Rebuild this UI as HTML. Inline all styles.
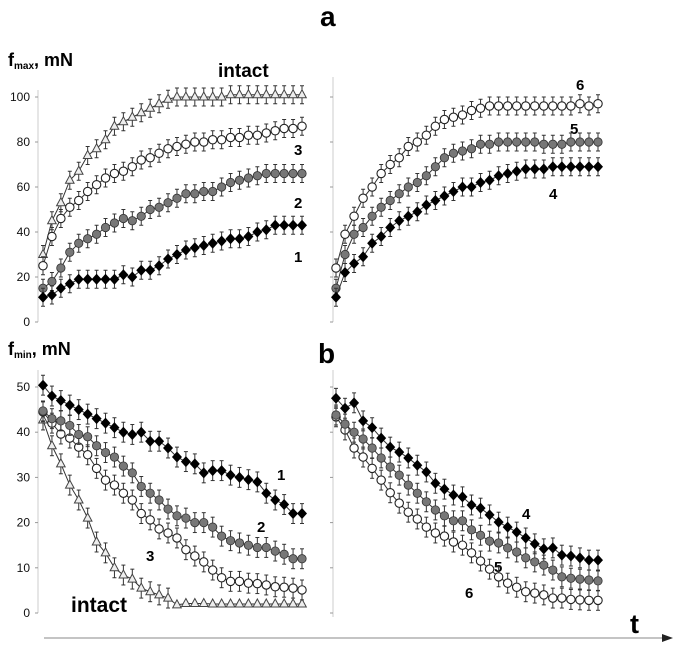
<!DOCTYPE html>
<html><head><meta charset="utf-8">
<style>
html,body{margin:0;padding:0;background:#fff;}
svg{display:block;font-family:"Liberation Sans",Arial,sans-serif;}
</style></head>
<body>
<svg id="chart" width="681" height="650" viewBox="0 0 681 650" xmlns="http://www.w3.org/2000/svg">
<g id="static">
  <text x="320" y="26" font-size="28" font-weight="bold">a</text>
  <text x="318" y="363" font-size="28" font-weight="bold">b</text>
  <text x="8" y="66" font-size="18" font-weight="bold">f<tspan font-size="10" dy="3">max</tspan><tspan dy="-3">, mN</tspan></text>
  <text x="8" y="355" font-size="18" font-weight="bold">f<tspan font-size="10" dy="3">min</tspan><tspan dy="-3">, mN</tspan></text>
  <text x="218" y="77" font-size="19" font-weight="bold">intact</text>
  <text x="294" y="155" font-size="15" font-weight="bold">3</text>
  <text x="294" y="208" font-size="15" font-weight="bold">2</text>
  <text x="294" y="262" font-size="15" font-weight="bold">1</text>
  <text x="576" y="90" font-size="15" font-weight="bold">6</text>
  <text x="570" y="134" font-size="15" font-weight="bold">5</text>
  <text x="549" y="199" font-size="15" font-weight="bold">4</text>
  <text x="277" y="480" font-size="15" font-weight="bold">1</text>
  <text x="257" y="532" font-size="15" font-weight="bold">2</text>
  <text x="146" y="561" font-size="15" font-weight="bold">3</text>
  <text x="71" y="612" font-size="21" font-weight="bold">intact</text>
  <text x="522" y="519" font-size="15" font-weight="bold">4</text>
  <text x="494" y="572" font-size="15" font-weight="bold">5</text>
  <text x="465" y="598" font-size="15" font-weight="bold">6</text>
  <line x1="44" y1="638" x2="662" y2="638" stroke="#888" stroke-width="1"/>
  <polygon points="662,634 673,638 662,642" fill="#222"/>
  <text x="630" y="633" font-size="27" font-weight="bold">t</text>
</g>
<g id="plot"></g>
</svg>
<script>
// Top panel data (f_max, mN)
const topTicks = [0,20,40,60,80,100];
const topIntact = [30,45,53,63,67,74,77,81,87,89,91,93,95,97,99,100,100,100,100,100,100,101,101,101,101,101,101,101,101,101];
const top3 = [25,38,46,51,54,58,61,64,66,67,69,72,73,75,77,78,79,80,80,81,81,82,82,83,83,84,85,86,86,87];
const top2 = [15,18,24,31,35,37,39,42,44,46,45,47,50,51,53,55,57,57,58,58,60,62,63,64,65,66,66,66,66,66];
const top1 = [11,12,15,17,19,19,19,19,19,21,20,23,23,25,28,30,32,33,34,35,36,37,37,38,40,41,43,43,43,43];
const top6 = [24,39,47,55,60,66,70,73,78,80,83,87,90,91,92,94,95,96,96,96,96,96,96,96,96,96,96,97,96,97];
const top5 = [15,30,39,42,47,51,54,57,60,62,65,69,73,75,76,77,79,79,80,80,80,80,80,79,79,79,80,80,80,80];
const top4 = [11,22,26,29,35,38,42,45,47,49,52,54,56,58,60,60,62,63,65,66,67,68,68,68,69,69,69,69,69,69];
const topErr = 4;
// Bottom panel data (f_min, mN)
const botTicks = [0,10,20,30,40,50];
const bot1 = [50.4,48,47,46,45,44,43,42,41,40,39.5,40,38,38,36.5,34.5,33.5,33,31,31.5,31.5,30.5,30,29.5,29,26.5,25,24,22,22];
const bot2 = [44.7,43,42.5,41.5,39.5,39,37,35.5,34.5,32.5,31,28,26.5,25,23,21.5,21,20,20,19,17,16,15.5,15,14.5,14.5,13.7,13,12,12];
const bot3 = [44.5,42,39.6,38.7,36.7,35,32,29.4,28.3,26.5,25,22,20.6,18.6,17.7,16.6,14,12.6,11.3,9.5,7.8,7,7,6.6,6.5,6.2,5.8,5.7,5.5,5.1];
const botIntact = [42.7,37,33,28.3,25,21,15.7,13.3,10,8.4,7.5,5.5,4.7,4,3.3,1.8,2.1,2.1,2.1,2,2,2,2,2,2,2,2,2,2,2];
const bot4 = [47.5,45.3,46.5,42.5,41,38.7,36.7,35.6,34.3,32.7,31.2,28.7,27.4,26.1,25.7,23.9,23.2,21.7,20.1,19,17.9,16.6,15.3,14.2,14.4,12.8,12.6,12.2,11.7,11.7];
const bot5 = [43.8,41.8,40,38.5,36.5,34.3,32.3,30.5,28.3,26.5,24.6,22.8,21.5,20.4,20.4,18.4,17.2,15.9,15.5,14.4,13.5,12.2,11.3,10.6,9.5,8,7.7,7.5,7.3,7.1];
const bot6 = [43.4,40.5,36.5,34.5,32,29.4,26.6,24.3,22.3,20.8,19,17.7,17,15.7,15,13.3,11.5,9.7,8,6.6,5.7,4.7,4.4,4,3.3,3.3,3,2.9,2.8,2.8];
const botErr = 2.2;

const NS = "http://www.w3.org/2000/svg";
const plot = document.getElementById('plot');
function mk(tag, attrs, parent){ const e=document.createElementNS(NS,tag); for(const k in attrs) e.setAttribute(k,attrs[k]); (parent||plot).appendChild(e); return e; }

const yTop = v => 322 - v*2.25;
const yBot = v => 613 - v*4.52;
const xL = i => 43 + i*(302-43)/29;
const xR = i => 336 + i*(598-336)/29;

function axis(x, y0, y1, ticks, yf, labels, name){
  const g = mk('g',{});
  
  
  mk('line',{x1:x,y1:y0,x2:x,y2:y1,stroke:'#ccc','stroke-width':1},g);
  ticks.forEach(t=>{
    mk('line',{x1:x-3,y1:yf(t),x2:x,y2:yf(t),stroke:'#999','stroke-width':1},g);
    if(labels){
      const tx = mk('text',{x:30,y:yf(t)+4,'font-size':12,'text-anchor':'end',fill:'#111'},g);
      tx.textContent = t;
      
      
    }
  });
}
axis(38, 90, 322, topTicks, yTop, true, 'y-axis-top-left');
axis(38, 370, 613, botTicks, yBot, true, 'y-axis-bottom-left');
axis(333, 77, 322, topTicks, yTop, false, 'y-axis-top-right');
axis(333, 370, 617, botTicks, yBot, false, 'y-axis-bottom-right');

function marker(g, type, x, y){
  if(type==='diamond') mk('polygon',{points:`${x},${y-5.5} ${x+5},${y} ${x},${y+5.5} ${x-5},${y}`,fill:'#000'},g);
  else if(type==='grey') mk('circle',{cx:x,cy:y,r:4.2,fill:'#777',stroke:'#333','stroke-width':0.8},g);
  else if(type==='open') mk('circle',{cx:x,cy:y,r:4.2,fill:'#fff',stroke:'#222','stroke-width':1.1},g);
  else mk('polygon',{points:`${x},${y-5} ${x+4.3},${y+3} ${x-4.3},${y+3}`,fill:'#eee',stroke:'#444','stroke-width':1},g);
}
function series(data, xf, yf, err, type, name){
  const g = mk('g',{});
  
  
  mk('polyline',{points:data.map((v,i)=>xf(i)+','+yf(v)).join(' '),fill:'none',stroke:'#333','stroke-width':1},g);
  data.forEach((v,i)=>{
    const x=xf(i);
    const e = (type==='tri' && v<3) ? 0.3 : err;
    const a=yf(v+e), b=yf(v-e);
    mk('line',{x1:x,y1:a,x2:x,y2:b,stroke:'#333','stroke-width':1},g);
    mk('line',{x1:x-2,y1:a,x2:x+2,y2:a,stroke:'#333','stroke-width':1},g);
    mk('line',{x1:x-2,y1:b,x2:x+2,y2:b,stroke:'#333','stroke-width':1},g);
  });
  data.forEach((v,i)=>marker(g,type,xf(i),yf(v)));
}
series(topIntact, xL, yTop, topErr, 'tri', 'series-intact-a');
series(top3, xL, yTop, topErr, 'open', 'series-3-a');
series(top2, xL, yTop, topErr, 'grey', 'series-2-a');
series(top1, xL, yTop, topErr, 'diamond', 'series-1-a');
series(top6, xR, yTop, topErr, 'open', 'series-6-a');
series(top5, xR, yTop, topErr, 'grey', 'series-5-a');
series(top4, xR, yTop, topErr, 'diamond', 'series-4-a');
series(botIntact, xL, yBot, botErr, 'tri', 'series-intact-b');
series(bot3, xL, yBot, botErr, 'open', 'series-3-b');
series(bot2, xL, yBot, botErr, 'grey', 'series-2-b');
series(bot1, xL, yBot, botErr, 'diamond', 'series-1-b');
series(bot6, xR, yBot, botErr, 'open', 'series-6-b');
series(bot5, xR, yBot, botErr, 'grey', 'series-5-b');
series(bot4, xR, yBot, botErr, 'diamond', 'series-4-b');
</script>
</body></html>
